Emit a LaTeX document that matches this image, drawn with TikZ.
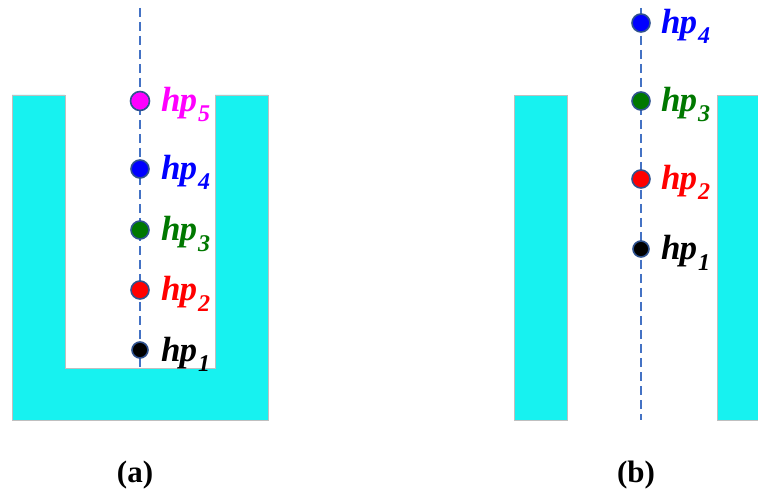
\documentclass[tikz,border=0pt]{standalone}
\usepackage{fontspec}
\setmainfont{Liberation Serif}
\begin{document}
\begin{tikzpicture}[x=1pt,y=-1pt,
  wall/.style={fill=wallc,draw=black!25,line width=0.8pt},
  axis/.style={draw=axc,dash pattern=on 9pt off 5pt,line width=2.6pt},
  dotnode/.style={circle,draw=ptb,line width=1.6pt,minimum size=#1,inner sep=0pt},
  lbl/.style={anchor=base west,inner sep=0pt,font=\fontsize{35}{35}\selectfont\bfseries\itshape},
  captext/.style={font=\fontsize{31}{31}\selectfont\bfseries}]
\definecolor{wallc}{RGB}{23,242,240}
\definecolor{axc}{RGB}{68,114,196}
\definecolor{ptb}{RGB}{47,82,143}
\definecolor{mag}{RGB}{255,0,255}
\definecolor{grn}{RGB}{0,120,0}
\definecolor{blu}{RGB}{0,0,255}
\definecolor{rd}{RGB}{255,0,0}
\useasboundingbox (0,0) rectangle (758,497);
\newcommand{\hpl}[2]{\textcolor{#1}{h\kern-1pt p\kern1pt\raisebox{-10pt}{\fontsize{24}{24}\selectfont #2}}}
% (a)
\draw[wall] (12,95) -- (65,95) -- (65,368) -- (215,368) -- (215,95) -- (268,95) -- (268,420) -- (12,420) -- cycle;
\coordinate (at) at (140,8);
\coordinate (ab) at (140,368);
\draw[axis] (at) -- (ab);
\node[dotnode=19pt,fill=mag] (a5) at (140,101) {};
\node[dotnode=18pt,fill=blu] (a4) at (140,169) {};
\node[dotnode=18pt,fill=grn] (a3) at (140,230) {};
\node[dotnode=18pt,fill=rd] (a2) at (140,290) {};
\node[dotnode=16pt,fill=black] (a1) at (140,350) {};
\node[lbl] (la5) at (161,112) {\hpl{mag}{5}};
\node[lbl] (la4) at (161,180) {\hpl{blu}{4}};
\node[lbl] (la3) at (161,241) {\hpl{grn}{3}};
\node[lbl] (la2) at (161,301) {\hpl{rd}{2}};
\node[lbl] (la1) at (161,361) {\hpl{black}{1}};
% (b)
\draw[wall] (514,95) rectangle (567,420);
\draw[wall] (717,95) rectangle (760,420);
\coordinate (bt) at (641,8);
\coordinate (bb) at (641,420);
\draw[axis] (bt) -- (bb);
\node[dotnode=18pt,fill=blu] (b4) at (641,23) {};
\node[dotnode=18pt,fill=grn] (b3) at (641,101) {};
\node[dotnode=18pt,fill=rd] (b2) at (641,179) {};
\node[dotnode=16pt,fill=black] (b1) at (641,249) {};
\node[lbl] (lb4) at (661,34) {\hpl{blu}{4}};
\node[lbl] (lb3) at (661,112) {\hpl{grn}{3}};
\node[lbl] (lb2) at (661,190) {\hpl{rd}{2}};
\node[lbl] (lb1) at (661,260) {\hpl{black}{1}};
% captions
\node[captext] (ca) at (135,475) {(a)};
\node[captext] (cb) at (636,475) {(b)};
\end{tikzpicture}
\end{document}
